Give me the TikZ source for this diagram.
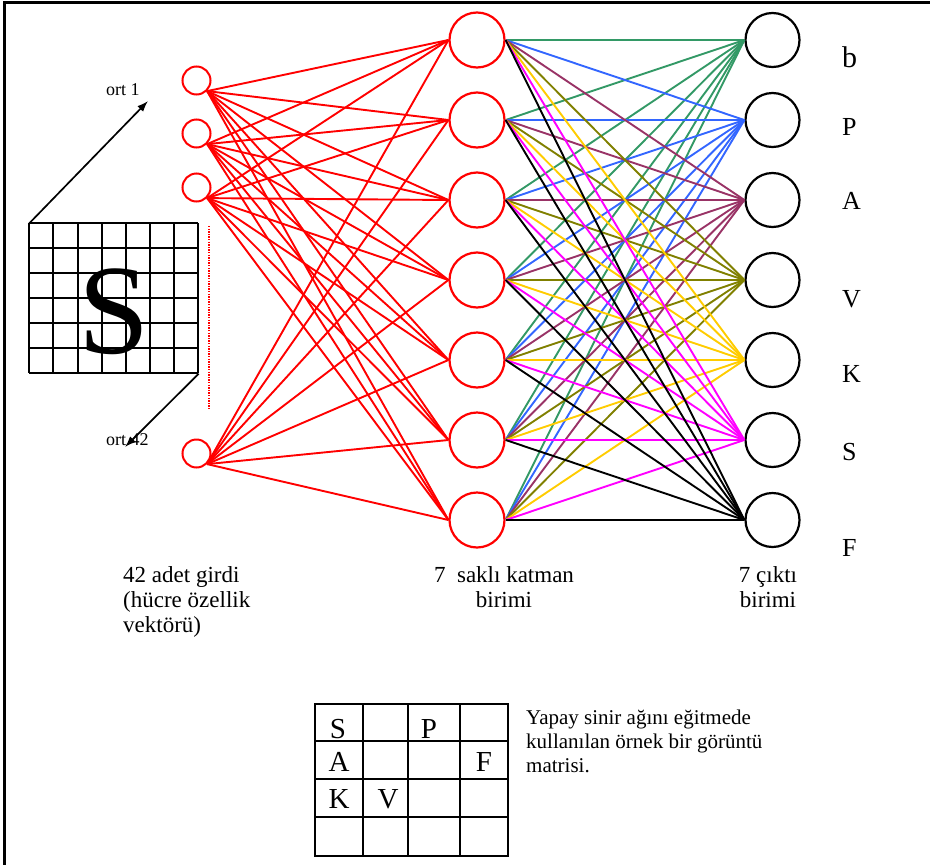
\documentclass[tikz,border=0pt]{standalone}
\usepackage{fontspec}
\setmainfont{Liberation Serif}
\usetikzlibrary{arrows.meta}
\definecolor{cgreen}{RGB}{51,153,102}
\definecolor{cblue}{RGB}{51,102,255}
\definecolor{cplum}{RGB}{153,51,102}
\definecolor{colive}{RGB}{128,128,0}
\definecolor{cgold}{RGB}{255,204,0}
\definecolor{cmag}{RGB}{255,0,255}
\begin{document}
\begin{tikzpicture}[x=1pt,y=-1pt,
  inp/.style={circle,draw=red,line width=2pt,minimum size=28pt,inner sep=0pt},
  hid/.style={circle,draw=red,line width=2.2pt,minimum size=55pt,inner sep=0pt},
  outn/.style={circle,draw=black,line width=2.2pt,minimum size=54pt,inner sep=0pt},
  redline/.style={red,line width=1.9pt},
  wline/.style={line width=1.9pt},
  gridl/.style={line width=2pt},
  arr/.style={line width=1.7pt,-{Latex[length=11pt,width=8pt]}},
  lbl/.style={inner sep=0pt,font=\fontsize{23}{25}\selectfont},
  outlbl/.style={inner sep=0pt,font=\fontsize{26}{28}\selectfont},
  ortl/.style={inner sep=0pt,font=\fontsize{18}{20}\selectfont},
  matl/.style={inner sep=0pt,font=\fontsize{29}{30}\selectfont},
  captl/.style={inner sep=0pt,font=\fontsize{21}{24}\selectfont,align=left}
]
\useasboundingbox (0,0) rectangle (930,865);
% frame
\draw[line width=2.2pt] (4.5,865) -- (4.5,2.5) -- (930,2.5);

% input nodes
\node[inp] (in1) at (196.5,80.5) {};
\node[inp] (in2) at (196.5,133.5) {};
\node[inp] (in3) at (196.5,187.5) {};
\node[inp] (in4) at (196.5,453.5) {};

% hidden and output nodes
\foreach \i in {1,...,7} {
  \node[hid] (h\i) at (477,{40+80*(\i-1)}) {};
  \node[outn] (o\i) at (772.5,{40+80*(\i-1)}) {};
}

% input -> hidden
\foreach \i in {1,...,4}
  \foreach \j in {1,...,7}
    \draw[redline] (in\i.south east) -- (h\j.west);

% hidden -> output
\foreach \c [count=\j] in {cgreen,cblue,cplum,colive,cgold,cmag,black}
  \foreach \i in {1,...,7}
    \draw[wline,\c] (h\i.east) -- (o\j.west);

% output labels
\node[inner sep=0pt,font=\fontsize{30}{32}\selectfont,anchor=base west] (lab1) at (842,67) {b};
\foreach \t/\b [count=\i from 2] in {P/135,A/209,V/307,K/382,S/460,F/556}
  \node[outlbl,anchor=base west] (lab\i) at (842,\b) {\t};

% pixel grid with S
\node[inner sep=0pt,minimum width=169pt,minimum height=150pt,anchor=north west] (grid) at (29.3,223.3) {};
\foreach \k in {0,...,7}
  \draw[gridl] ({29.3+\k*24.143},223.3) -- ({29.3+\k*24.143},373.3);
\foreach \k in {0,...,6}
  \draw[gridl] (29.3,{223.3+\k*25}) -- (198.3,{223.3+\k*25});
\node[inner sep=0pt,font=\fontsize{128}{128}\selectfont,anchor=base] (bigS) at (114,353) {S};

% ort labels and arrows
\node[ortl,anchor=base west] (ort1) at (106,95) {ort 1};
\node[ortl,anchor=base west] (ort42) at (106,445) {ort 42};
\coordinate (t1) at (148,101);
\coordinate (t42) at (125,447);
\draw[arr] (grid.north west) -- (t1);
\draw[arr] (grid.south east) -- (t42);

% dotted red line
\coordinate (d1) at (209,226);
\coordinate (d2) at (209,410);
\draw[red,line width=1.3pt,dash pattern=on 1.3pt off 1.3pt] (d1) -- (d2);

% bottom labels
\node[lbl,anchor=north west,align=left] (inlbl) at (123,566) {42 adet girdi\\(hücre özellik\\vektörü)};
\node[lbl,anchor=north,align=center] (hlbl) at (504,566) {7\ \ saklı katman\\birimi};
\node[lbl,anchor=north,align=center] (olbl) at (768,566) {7 çıktı\\birimi};

% matrix
\node[draw,line width=2pt,inner sep=0pt,minimum width=193pt,minimum height=152pt,anchor=north west] (mat) at (314,703) {};
\foreach \x in {363,408,460}
  \draw[gridl] (\x,703) -- (\x,855);
\foreach \y in {741,779,817}
  \draw[gridl] (314,\y) -- (507,\y);
\node[matl,anchor=base] (mS) at (338,738) {S};
\node[matl,anchor=base] (mP) at (429,738) {P};
\node[matl,anchor=base] (mA) at (339,771) {A};
\node[matl,anchor=base] (mF) at (484,771) {F};
\node[matl,anchor=base] (mK) at (339,808) {K};
\node[matl,anchor=base] (mV) at (388,808) {V};

\node[captl,anchor=north west] (capt) at (526,709.5) {Yapay sinir ağını eğitmede\\kullanılan örnek bir görüntü\\matrisi.};
\end{tikzpicture}
\end{document}
